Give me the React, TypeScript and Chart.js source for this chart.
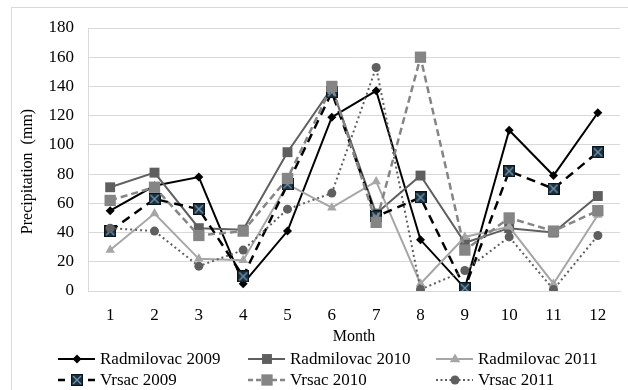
import React, { useEffect, useRef } from "react";
import { Chart, registerables } from "chart.js";

Chart.register(...registerables);

const months = ["1", "2", "3", "4", "5", "6", "7", "8", "9", "10", "11", "12"];
const seriesNames = [
  "Radmilovac 2009",
  "Radmilovac 2010",
  "Radmilovac 2011",
  "Vrsac 2009",
  "Vrsac 2010",
  "Vrsac 2011",
];
const radmilovac2009 = [55, 72, 78, 5, 41, 119, 137, 35, 2, 110, 79, 122];
const radmilovac2010 = [71, 81, 43, 42, 95, 139, 53, 79, 33, 43, 40, 65];
const radmilovac2011 = [28, 53, 22, 21, 73, 57, 75, 5, 37, 44, 5, 52];
const vrsac2009 = [41, 63, 56, 10, 73, 136, 51, 64, 2, 82, 70, 95];
const vrsac2010 = [62, 71, 38, 41, 77, 140, 47, 160, 28, 50, 41, 55];
const vrsac2011 = [43, 41, 17, 28, 56, 67, 153, 1, 14, 37, 1, 38];
const yTicksMax = 180;
const yTicksStep = 20;

const FONT = '"Liberation Serif", serif';

function makeXSquare(): HTMLCanvasElement {
  const c = document.createElement("canvas");
  c.width = 12;
  c.height = 12;
  const g = c.getContext("2d")!;
  g.fillStyle = "#1c2f3d";
  g.fillRect(0, 0, 12, 12);
  g.strokeStyle = "#0a141b";
  g.lineWidth = 1;
  g.strokeRect(0.5, 0.5, 11, 11);
  g.strokeStyle = "#6f95b0";
  g.lineWidth = 1.4;
  g.beginPath();
  g.moveTo(2, 2);
  g.lineTo(10, 10);
  g.moveTo(10, 2);
  g.lineTo(2, 10);
  g.stroke();
  return c;
}

function drawMarker(ctx: CanvasRenderingContext2D, ds: any, x: number, y: number) {
  const style = ds.pointStyle;
  const r = ds.pointRadius;
  ctx.save();
  ctx.setLineDash([]);
  ctx.fillStyle = ds.pointBackgroundColor;
  ctx.strokeStyle = ds.pointBorderColor;
  ctx.lineWidth = 1;
  if (typeof style !== "string") {
    ctx.drawImage(style, x - style.width / 2, y - style.height / 2);
  } else if (style === "rectRot") {
    ctx.beginPath();
    ctx.moveTo(x, y - r);
    ctx.lineTo(x + r, y);
    ctx.lineTo(x, y + r);
    ctx.lineTo(x - r, y);
    ctx.closePath();
    ctx.fill();
  } else if (style === "rect") {
    const s = r * Math.SQRT1_2;
    ctx.fillRect(x - s, y - s, 2 * s, 2 * s);
  } else if (style === "triangle") {
    ctx.beginPath();
    ctx.moveTo(x, y - r);
    ctx.lineTo(x + r * 0.95, y + r * 0.6);
    ctx.lineTo(x - r * 0.95, y + r * 0.6);
    ctx.closePath();
    ctx.fill();
  } else {
    ctx.beginPath();
    ctx.arc(x, y, r, 0, Math.PI * 2);
    ctx.fill();
  }
  ctx.restore();
}

const legendPlugin = {
  id: "gridLegend",
  afterDraw(chart: any) {
    const ctx: CanvasRenderingContext2D = chart.ctx;
    const cols = [58, 248, 436];
    const rows = [359, 380];
    chart.data.datasets.forEach((ds: any, i: number) => {
      const x0 = cols[i % 3];
      const y = rows[Math.floor(i / 3)];
      ctx.save();
      ctx.strokeStyle = ds.borderColor;
      ctx.lineWidth = ds.borderWidth;
      ctx.setLineDash(ds.legendDash || []);
      ctx.beginPath();
      ctx.moveTo(x0, y);
      ctx.lineTo(x0 + 37, y);
      ctx.stroke();
      ctx.restore();
      drawMarker(ctx, ds, x0 + 19, y);
      ctx.save();
      ctx.fillStyle = "#000";
      ctx.font = "normal 17px " + FONT;
      ctx.textBaseline = "middle";
      ctx.textAlign = "left";
      ctx.fillText(ds.label, x0 + 42, y + 1);
      ctx.restore();
    });
  },
};

const framePlugin = {
  id: "frame",
  beforeDraw(chart: any) {
    const ctx: CanvasRenderingContext2D = chart.ctx;
    ctx.save();
    ctx.fillStyle = "#fff";
    ctx.fillRect(0, 0, chart.width, chart.height);
    ctx.strokeStyle = "#d9d9d9";
    ctx.lineWidth = 1;
    ctx.strokeRect(11.5, 7.5, chart.width + 20, chart.height + 20);
    ctx.restore();
  },
};

export default function App() {
  const ref = useRef<HTMLCanvasElement | null>(null);

  useEffect(() => {
    if (!ref.current) return;
    Chart.defaults.font.family = FONT;
    const xSquare = makeXSquare();
    const values = [radmilovac2009, radmilovac2010, radmilovac2011, vrsac2009, vrsac2010, vrsac2011];
    const styles = [
      { color: "#000000", dash: [], legendDash: [], width: 2, point: "rectRot", r: 4.5, pc: "#000000" },
      { color: "#5f5f5f", dash: [], legendDash: [], width: 2, point: "rect", r: 7, pc: "#5f5f5f" },
      { color: "#a6a6a6", dash: [], legendDash: [], width: 2, point: "triangle", r: 5.5, pc: "#a6a6a6" },
      { color: "#000000", dash: [9, 6], legendDash: [7, 23], width: 2.5, point: xSquare, r: 6, pc: "#1c2f3d" },
      { color: "#858585", dash: [7, 4], legendDash: [5, 3], width: 2.5, point: "rect", r: 8, pc: "#858585" },
      { color: "#5f5f5f", dash: [2, 3], legendDash: [2, 2.5], width: 2, point: "circle", r: 4.5, pc: "#5f5f5f" },
    ];
    const datasets = seriesNames.map((name, i) => ({
      label: name,
      data: values[i],
      borderColor: styles[i].color,
      borderWidth: styles[i].width,
      borderDash: styles[i].dash,
      legendDash: styles[i].legendDash,
      pointStyle: styles[i].point as any,
      pointRadius: styles[i].r,
      pointBackgroundColor: styles[i].pc,
      pointBorderColor: styles[i].pc,
      pointBorderWidth: 0,
      tension: 0,
      fill: false,
      order: 5 - i,
    }));

    const chart = new Chart(ref.current, {
      type: "line",
      data: { labels: months, datasets: datasets as any },
      options: {
        animation: false,
        responsive: false,
        devicePixelRatio: 1,
        layout: { padding: { left: 12, top: 28, right: 6, bottom: 44 } },
        plugins: {
          legend: { display: false },
          tooltip: { enabled: false },
        },
        scales: {
          x: {
            offset: true,
            grid: { display: false, drawTicks: false },
            border: { display: true, color: "#d9d9d9" },
            ticks: { color: "#000", font: { size: 17, family: FONT }, padding: 14 },
            title: {
              display: true,
              text: "Month",
              color: "#000",
              font: { size: 16, family: FONT },
              padding: { top: 0, bottom: 0 },
            },
            afterFit: (s: any) => {
              s.height = 55;
            },
          },
          y: {
            min: 0,
            max: yTicksMax,
            ticks: { stepSize: yTicksStep, color: "#000", font: { size: 17, family: FONT }, padding: 14 },
            grid: { color: "#d9d9d9", drawTicks: false, lineWidth: 1 },
            border: { display: true, color: "#d9d9d9" },
            title: {
              display: true,
              text: "Precipitation  (mm)      ",
              color: "#000",
              font: { size: 16, family: FONT },
              padding: { top: 6, bottom: 0 },
            },
            afterFit: (s: any) => {
              s.width = 76;
            },
          },
        },
      },
      plugins: [framePlugin, legendPlugin],
    });
    return () => chart.destroy();
  }, []);

  return (
    <div style={{ position: "absolute", left: 0, top: 0, width: 628, height: 390, background: "#fff" }}>
      <canvas ref={ref} width={628} height={390} style={{ width: 628, height: 390, display: "block" }} />
    </div>
  );
}
